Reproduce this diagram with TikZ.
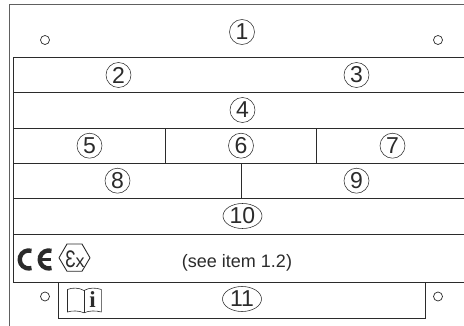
\documentclass[tikz,border=0pt]{standalone}
\usepackage{graphicx}
\usepackage{fontspec}
\setmainfont{Liberation Sans}
\newfontfamily\serifbold{Liberation Serif}
\definecolor{ink}{HTML}{2B2B2B}
\usetikzlibrary{shapes.geometric}
\tikzset{
  x=1pt,y=-1pt,
  outerline/.style={draw=ink!75,line width=0.9pt},
  gridline/.style={draw=ink,line width=1pt},
  thinline/.style={draw=ink,line width=0.8pt},
  numc/.style={draw=ink,line width=0.55pt,circle,minimum size=25pt,inner sep=0pt,font=\fontsize{23}{23}\selectfont,text=ink},
  nume/.style={draw=ink,line width=0.55pt,ellipse,minimum width=39pt,minimum height=25pt,inner sep=0pt,font=\fontsize{23}{23}\selectfont,text=ink},
  hole/.style={draw=ink,line width=0.7pt,circle,minimum size=9pt,inner sep=0pt},
}
\begin{document}
\begin{tikzpicture}
\useasboundingbox (0,0) rectangle (464,326);
% outer plate
\draw[outerline] (464,4.7) -- (9.4,4.7) -- (9.4,326);
% inner table
\draw[gridline] (464,57.4) -- (13.7,57.4) -- (13.7,282.4) -- (464,282.4);
\foreach \yy in {92.8,128.3,163.4,199,234.4} \draw[gridline] (13.7,\yy) -- (464,\yy);
\draw[thinline] (165.3,128.3) -- (165.3,163.4);
\draw[thinline] (316.7,128.3) -- (316.7,163.4);
\draw[thinline] (241.3,163.4) -- (241.3,199);
% bottom box
\draw[thinline,line width=0.9pt] (58.3,282.4) -- (58.3,318.3) -- (425.3,318.3) -- (425.3,282.4);
% holes
\node[hole] (h1) at (45,40) {};
\node[hole] (h2) at (438,40) {};
\node[hole] (h3) at (45,296.5) {};
\node[hole] (h4) at (438,296.5) {};
% numbers
\node[numc] (n1) at (242,32) {1};
\node[numc] (n2) at (118.5,75) {2};
\node[numc] (n3) at (356.5,75) {3};
\node[numc] (n4) at (242.5,110) {4};
\node[numc] (n5) at (89.5,145.7) {5};
\node[numc] (n6) at (241,145.7) {6};
\node[numc] (n7) at (392.5,145.7) {7};
\node[numc] (n8) at (117.5,180.7) {8};
\node[numc] (n9) at (356.5,180.7) {9};
\node[nume] (n10) at (242.5,216) {10};
\node[nume] (n11) at (242,299) {11};
% note
\node[font=\fontsize{18}{18}\selectfont,text=ink,inner sep=0pt] (note) at (237,263) {(see item 1.2)};
% CE mark
\draw[ink,line width=4.4pt] (31.5,250.9) arc[start angle=-72,end angle=-288,radius=9];
\draw[ink,line width=4.4pt] (51.5,250.9) arc[start angle=-72,end angle=-288,radius=9];
\draw[ink,line width=2.6pt] (39,259.5) -- (50.5,259.5);
% Ex mark
\draw[ink,line width=0.9pt,line join=round] (59,257.8) -- (67,244) -- (82,244) -- (90,257.8) -- (82,271.3) -- (67,271.3) -- cycle;
\node[text=ink,inner sep=0pt,anchor=base] (ex) at (75,268) {\fontsize{24}{24}\selectfont\scalebox{0.72}[1]{Ɛ}\fontsize{18}{18}\selectfont x};
% book icon
\draw[ink,line width=0.6pt,line join=round] (84,290.5) .. controls (79,287.5) and (72,287.5) .. (67.5,289.5) -- (67.5,312) .. controls (72,310.5) and (79,310.5) .. (84,312.8) .. controls (89,310.5) and (96,310.5) .. (101.3,312) -- (101.3,289.5) .. controls (96,287.5) and (89,287.5) .. (84,290.5) -- cycle;
\draw[ink,line width=0.6pt] (84,290.5) -- (84,312.8);
\node[font=\serifbold\bfseries\fontsize{23}{23}\selectfont,text=ink,inner sep=0pt,anchor=base] (info) at (92.6,307.8) {i};
\end{tikzpicture}
\end{document}
